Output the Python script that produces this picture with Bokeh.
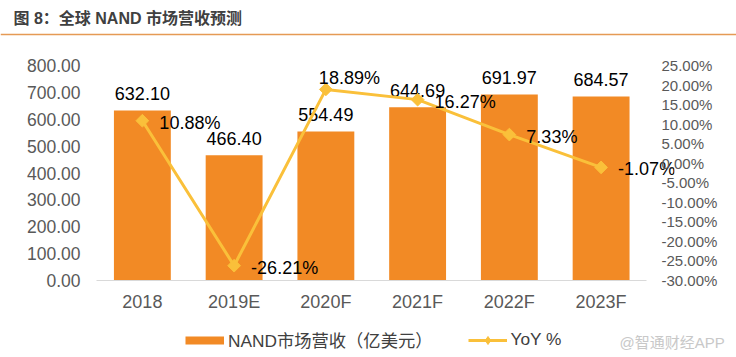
import numpy as np
from bokeh.plotting import figure
from bokeh.layouts import column
from bokeh.models import (Range1d, LinearAxis, FixedTicker, PrintfTickFormatter,
                          NumeralTickFormatter, ColumnDataSource, Legend, LegendItem)
from bokeh.core.properties import value
from bokeh.embed import file_html
from bokeh.resources import INLINE

# ---- data ----
categories = ["2018", "2019E", "2020F", "2021F", "2022F", "2023F"]
revenue = [632.10, 466.40, 554.49, 644.69, 691.97, 684.57]
yoy = [10.88, -26.21, 18.89, 16.27, 7.33, -1.07]
left_ticks = [0, 100, 200, 300, 400, 500, 600, 700, 800]
right_ticks = [-30, -25, -20, -15, -10, -5, 0, 5, 10, 15, 20, 25]
title_text = "图 8：全球 NAND 市场营收预测"
bar_label = "NAND市场营收（亿美元）"
line_label = "YoY %"
watermark = "@智通财经APP"

ORANGE = "#F28A25"
YELLOW = "#FAC03A"
GRAY = "#595959"
LATIN = "'Liberation Sans', 'Noto Sans CJK SC', sans-serif"

W = 736
HEAD_H = 40
MAIN_H = 274
FOOT_H = 357 - HEAD_H - MAIN_H

n = len(categories)
xs = [i + 0.5 for i in range(n)]

# ---- header ----
head = figure(width=W, height=HEAD_H, x_range=Range1d(0, W), y_range=Range1d(0, HEAD_H),
              output_backend="svg", toolbar_location=None, x_axis_type=None, y_axis_type=None,
              min_border=0, outline_line_color=None, frame_align=False)
head.grid.visible = False
head.text(x=[13], y=[HEAD_H - 18], text=[title_text],
          text_font=value("'Liberation Sans', 'Noto Sans CJK SC'"),
          text_font_style="bold", text_font_size="16px", text_color="#404040",
          text_baseline="middle", text_align="left")
head.segment(x0=[0], y0=[HEAD_H - 34], x1=[W], y1=[HEAD_H - 34], line_color="#E59A55", line_width=1.5)

# ---- main ----
p = figure(width=W, height=MAIN_H, x_range=Range1d(0, n + 0.3),
           y_range=Range1d(0, 800), output_backend="svg", toolbar_location=None,
           min_border_left=96, min_border_right=62, min_border_top=25, min_border_bottom=32,
           outline_line_color=None, frame_align=False)
p.extra_y_ranges = {"yoy": Range1d(-30, 25)}
p.grid.visible = False

src = ColumnDataSource(dict(x=xs, rev=revenue, yoy=yoy,
                            rev_txt=[f"{v:.2f}" for v in revenue]))

bars = p.vbar(x="x", top="rev", width=0.62, source=src, fill_color=ORANGE, line_color=None)
p.text(x="x", y="rev", text="rev_txt", source=src, text_align="center", text_baseline="alphabetic",
       y_offset=-17, text_font=value(LATIN), text_font_size="18px", text_color="#000000")

line = p.line(x="x", y="yoy", source=src, y_range_name="yoy", line_color=YELLOW, line_width=3)
marks = p.scatter(x="x", y="yoy", source=src, y_range_name="yoy", marker="square", angle=np.pi / 4,
                  size=9, fill_color=YELLOW, line_color=YELLOW)

idx_right = [i for i in range(n) if i != 2]
idx_above = [2]
src_r = ColumnDataSource(dict(x=[xs[i] for i in idx_right], yoy=[yoy[i] for i in idx_right],
                              t=[f"{yoy[i]:.2f}%" for i in idx_right]))
src_a = ColumnDataSource(dict(x=[xs[i] for i in idx_above], yoy=[yoy[i] for i in idx_above],
                              t=[f"{yoy[i]:.2f}%" for i in idx_above]))
p.text(x="x", y="yoy", text="t", source=src_r, y_range_name="yoy", text_align="left",
       text_baseline="alphabetic", x_offset=17, y_offset=2, text_font=value(LATIN),
       text_font_size="18px", text_color="#000000")
p.text(x="x", y="yoy", text="t", source=src_a, y_range_name="yoy", text_align="left",
       text_baseline="alphabetic", x_offset=-7, y_offset=-11.5, text_font=value(LATIN),
       text_font_size="18px", text_color="#000000")

# axes
p.yaxis.ticker = FixedTicker(ticks=left_ticks)
p.yaxis.formatter = NumeralTickFormatter(format="0.00")
p.yaxis.axis_line_color = None
p.yaxis.major_tick_line_color = None
p.yaxis.minor_tick_line_color = None
p.yaxis.major_tick_out = 0
p.yaxis.major_label_standoff = 16
p.yaxis.major_label_text_font = LATIN
p.yaxis.major_label_text_font_size = "17.5px"
p.yaxis.major_label_text_color = GRAY

ra = LinearAxis(y_range_name="yoy", ticker=FixedTicker(ticks=right_ticks),
                formatter=PrintfTickFormatter(format="%.2f%%"))
ra.axis_line_color = None
ra.major_tick_line_color = None
ra.minor_tick_line_color = None
ra.major_tick_out = 0
ra.major_label_standoff = -13
ra.major_label_text_font = LATIN
ra.major_label_text_font_size = "15px"
ra.major_label_text_color = GRAY
p.add_layout(ra, "right")

p.xaxis.ticker = FixedTicker(ticks=xs)
p.xaxis.major_label_overrides = {x: c for x, c in zip(xs, categories)}
p.xaxis.bounds = (0, n)
p.xaxis.axis_line_color = "#D9D9D9"
p.xaxis.axis_line_width = 1
p.xaxis.major_tick_line_color = None
p.xaxis.minor_tick_line_color = None
p.xaxis.major_tick_out = 0
p.xaxis.major_label_standoff = 11
p.xaxis.major_label_text_font = LATIN
p.xaxis.major_label_text_font_size = "18px"
p.xaxis.major_label_text_color = GRAY

# ---- footer: legend + watermark ----
foot = figure(width=W, height=FOOT_H, x_range=Range1d(0, W), y_range=Range1d(0, FOOT_H),
              output_backend="svg", toolbar_location=None, x_axis_type=None, y_axis_type=None,
              min_border=0, outline_line_color=None, frame_align=False)
foot.grid.visible = False
# legend proxies (kept outside the visible range)
pb = foot.line(x=[-1000, -999], y=[-1000, -1000], line_color=ORANGE, line_width=8)
pl = foot.line(x=[-1000, -999], y=[-1000, -1000], line_color=YELLOW, line_width=3)
pm = foot.scatter(x=[-1000], y=[-1000], marker="diamond", size=13,
                  fill_color=YELLOW, line_color=YELLOW)
lg = Legend(items=[LegendItem(label=bar_label, renderers=[pb]),
                   LegendItem(label=line_label, renderers=[pl, pm])],
            location=(185, 5))
lg.orientation = "horizontal"
lg.border_line_color = None
lg.background_fill_alpha = 0
lg.padding = 0
lg.margin = 0
lg.spacing = 35
lg.glyph_width = 39
lg.glyph_height = 20
lg.label_standoff = 4
lg.label_height = 20
lg.label_text_font = LATIN
lg.label_text_font_size = "17.3px"
lg.label_text_color = "#404040"
foot.add_layout(lg)
foot.text(x=[619], y=[FOOT_H - 28], text=[watermark], text_font=value(LATIN),
          text_font_size="15px", text_color="#C8C8C8", text_baseline="middle", text_align="left")

layout = column(head, p, foot, spacing=0)
open("out.html", "w").write(file_html(layout, INLINE))
